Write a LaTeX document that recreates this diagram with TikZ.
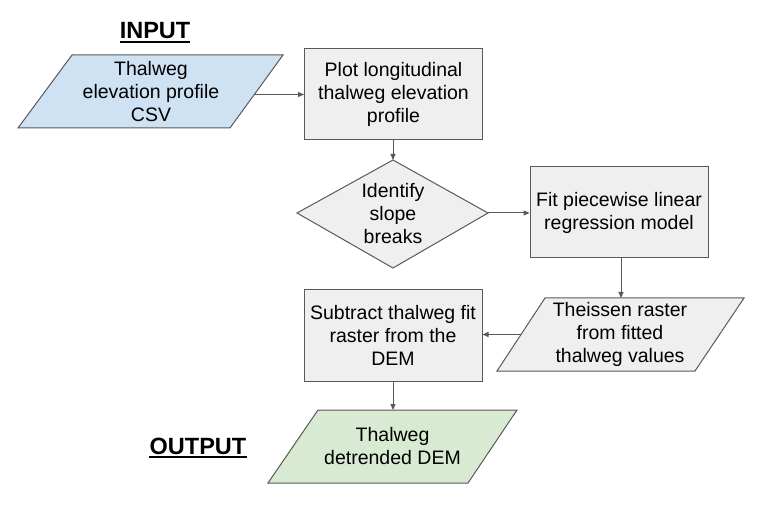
\documentclass[tikz,border=0pt]{standalone}
\usepackage{fontspec}
\setmainfont{Liberation Sans}
\usetikzlibrary{arrows.meta}
\definecolor{edge}{HTML}{595959}
\definecolor{boxfill}{HTML}{EFEFEF}
\definecolor{bluefill}{HTML}{CFE2F3}
\definecolor{greenfill}{HTML}{D9EAD3}
\tikzset{
  px/.style={x=1pt,y=-1pt},
  shapeline/.style={draw=edge, line width=1pt, line join=miter},
  procbox/.style={shapeline, fill=boxfill, rectangle, minimum width=178pt, minimum height=91pt, inner sep=0pt, align=center, font=\fontsize{19.5}{23}\selectfont},
  label/.style={align=center, inner sep=0pt, font=\fontsize{19.5}{23}\selectfont},
  title/.style={inner sep=0pt, font=\fontsize{23.5}{27}\selectfont\bfseries},
  uline/.style={draw=black, line width=1.8pt},
  arr/.style={draw=edge, line width=1pt, -{Triangle[length=6pt,width=5pt]}}
}
\begin{document}
\begin{tikzpicture}[px]
\useasboundingbox (0,0) rectangle (773,510);
% titles
\node[title] (tin) at (155,31) {INPUT};
\node[title] (tout) at (198,446) {OUTPUT};
\draw[uline] ([yshift=-2.8pt]tin.south west) -- ([yshift=-2.8pt]tin.south east);
\draw[uline] ([yshift=-2.8pt]tout.south west) -- ([yshift=-2.8pt]tout.south east);
% input parallelogram
\draw[shapeline, fill=bluefill] (72,55) -- (283,55) -- (230,128) -- (18,128) -- cycle;
\node[label] (inp) at (151,91.5) {Thalweg\\elevation profile\\CSV};
\coordinate (inR) at (255,94.5);
% box 1
\node[procbox] (plot) at (393.5,94.5) {Plot longitudinal\\thalweg elevation\\profile};
% diamond
\draw[shapeline, fill=boxfill] (393,160) -- (488,213) -- (393,268) -- (297,213) -- cycle;
\node[label] (ident) at (393,214) {Identify\\slope\\breaks};
\coordinate (dT) at (393,160);
\coordinate (dR) at (488,213);
% box 2
\node[procbox] (fit) at (619,212.5) {Fit piecewise linear\\regression model};
% Theissen parallelogram
\draw[shapeline, fill=boxfill] (545,298) -- (744,298) -- (695,371) -- (497,371) -- cycle;
\node[label] (theis) at (620,334.5) {Theissen raster\\from fitted\\thalweg values};
\coordinate (tT) at (621,298);
\coordinate (tL) at (521,334.5);
% subtract box
\node[procbox] (sub) at (393,335.5) {Subtract thalweg fit\\raster from the\\DEM};
% output parallelogram
\draw[shapeline, fill=greenfill] (318,410) -- (517,410) -- (468,483) -- (268,483) -- cycle;
\node[label] (outp) at (392.5,446.5) {Thalweg\\detrended DEM};
\coordinate (oT) at (393,410);
% connectors
\draw[arr] (inR) -- (plot.west);
\draw[arr] (plot.south -| dT) -- (dT);
\draw[arr] (dR) -- (fit.west |- dR);
\draw[arr] (fit.south -| tT) -- (tT);
\draw[arr] (tL) -- (sub.east |- tL);
\draw[arr] (sub.south) -- (oT);
\end{tikzpicture}
\end{document}
